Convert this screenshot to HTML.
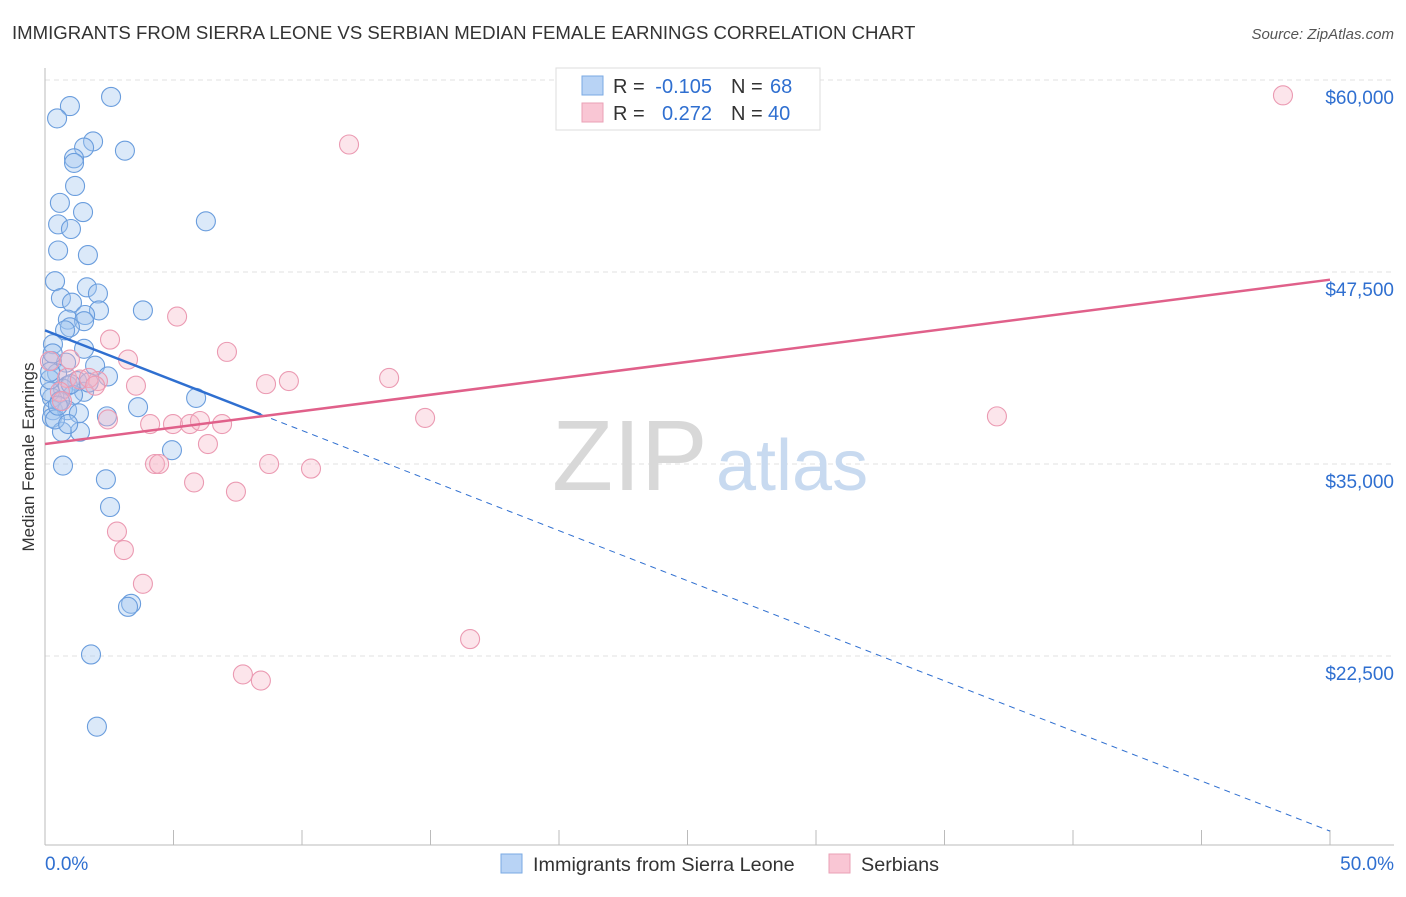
<!DOCTYPE html>
<html><head><meta charset="utf-8"><style>
body{margin:0;background:#fff;font-family:"Liberation Sans",sans-serif;}
svg text{font-family:"Liberation Sans",sans-serif;}
</style></head><body>
<svg id="chart" width="1406" height="892">
<text x="12" y="39" font-size="18.6" fill="#333">IMMIGRANTS FROM SIERRA LEONE VS SERBIAN MEDIAN FEMALE EARNINGS CORRELATION CHART</text>
<text x="1394" y="39" font-size="15" fill="#555" text-anchor="end" font-style="italic">Source: ZipAtlas.com</text>
<text x="34" y="457" font-size="17" fill="#333" text-anchor="middle" transform="rotate(-90 34 457)">Median Female Earnings</text>
<g id="grid"></g>
<text x="552" y="490" font-size="100" fill="#d8d8d8" font-family="Liberation Serif">ZIP</text>
<text x="716" y="490" font-size="72" fill="#c8daf0">atlas</text>
<g id="points"></g>
<g id="lines"></g>
<g>
<rect x="556" y="68" width="264" height="62" fill="#fff" stroke="#ddd"/>
<rect x="582" y="76" width="21" height="19" fill="#b8d3f5" stroke="#7aa9e3"/>
<text x="613" y="93" font-size="20" fill="#333">R =</text>
<text x="712" y="93" font-size="20" fill="#2f6fd0" text-anchor="end">-0.105</text>
<text x="731" y="93" font-size="20" fill="#333">N =</text>
<text x="770" y="93" font-size="20" fill="#2f6fd0">68</text>
<rect x="582" y="103" width="21" height="19" fill="#f9c6d4" stroke="#eaa0b6"/>
<text x="613" y="120" font-size="20" fill="#333">R =</text>
<text x="712" y="120" font-size="20" fill="#2f6fd0" text-anchor="end">0.272</text>
<text x="731" y="120" font-size="20" fill="#333">N =</text>
<text x="768" y="120" font-size="20" fill="#2f6fd0">40</text>
</g>
<g>
<rect x="501" y="854" width="21" height="19" fill="#b8d3f5" stroke="#7aa9e3"/>
<text x="533" y="871" font-size="19.8" fill="#333">Immigrants from Sierra Leone</text>
<rect x="829" y="854" width="21" height="19" fill="#f9c6d4" stroke="#eaa0b6"/>
<text x="861" y="871" font-size="19.8" fill="#333">Serbians</text>
</g>
<text x="45" y="870" font-size="19" fill="#2f6fd0">0.0%</text>
<text x="1394" y="870" font-size="19" fill="#2f6fd0" text-anchor="end">50.0%</text>
</svg>
<script>
const yTicks=[60000,47500,35000,22500];
const yTickLabels=["$60,000","$47,500","$35,000","$22,500"];
const blueX=[2.57,0.97,0.47,1.87,1.52,1.13,3.11,1.13,1.17,0.58,1.48,6.26,0.51,1.01,0.51,1.67,0.39,1.63,0.62,2.06,1.05,2.10,3.81,0.89,1.56,1.52,0.97,0.78,0.31,1.52,0.27,0.82,1.95,2.45,0.47,1.25,0.89,0.70,1.52,0.27,1.09,0.31,5.88,3.62,0.86,2.41,1.32,0.27,1.36,0.66,4.94,0.70,2.37,2.53,3.35,3.23,1.79,2.02,0.19,0.58,0.19,0.39,0.2,0.5,1.0,0.3,1.7,0.9];
const blueY=[58900,58300,57500,56000,55600,54900,55400,54600,53100,52000,51400,50800,50600,50300,48900,48600,46900,46500,45800,46100,45500,45000,45000,44400,44700,44300,43900,43700,42800,42500,41700,41600,41400,40700,40900,40400,40100,39900,39700,39300,39500,38500,39300,38700,38500,38100,38300,38000,37100,37100,35900,34900,34000,32200,25900,25700,22600,17900,39700,39100,40500,37900,41000,38800,40200,42200,40300,37600];
const pinkX=[48.17,11.83,5.14,2.53,7.08,0.97,3.23,0.86,1.36,2.06,1.71,1.95,3.54,8.60,9.49,13.39,2.45,4.09,4.98,5.64,6.03,6.89,6.34,14.79,37.04,0.19,0.58,4.28,4.44,8.72,10.35,5.80,7.43,2.80,3.07,3.81,16.54,7.70,8.40,0.66];
const pinkY=[59000,55800,44600,43100,42300,41800,41800,40600,40500,40400,40600,40100,40100,40200,40400,40600,37900,37600,37600,37600,37800,37600,36300,38000,38100,41700,39700,35000,35000,35000,34700,33800,33200,30600,29400,27200,23600,21300,20900,39100];
const blueTrend=[43700,11100];
const pinkTrend=[36300,47000];
const blueSolidEnd=8.4;
const NS="http://www.w3.org/2000/svg";
function xs(v){return 45+v*(1285/50);}
function ys(v){return 80+(60000-v)*192/12500;}
function mk(tag,attrs,parent){const e=document.createElementNS(NS,tag);for(const k in attrs)e.setAttribute(k,attrs[k]);parent.appendChild(e);return e;}
const grid=document.getElementById('grid');
yTicks.forEach((t,i)=>{
  const l=mk('line',{x1:45,x2:1394,y1:ys(t),y2:ys(t),stroke:'#e2e2e2','stroke-dasharray':'5,4'},grid);
  
  
  const tx=mk('text',{x:1394,y:ys(t)+24,'font-size':19,fill:'#2f6fd0','text-anchor':'end'},grid);
  tx.textContent=yTickLabels[i];
  
  
});
const ax=mk('line',{x1:45,x2:45,y1:68,y2:845,stroke:'#bbb'},grid);


const bx=mk('line',{x1:45,x2:1394,y1:845,y2:845,stroke:'#bbb'},grid);


for(let i=0;i<=10;i++){const t=mk('line',{x1:xs(i*5),x2:xs(i*5),y1:830,y2:845,stroke:'#bbb'},grid);

}
const pts=document.getElementById('points');
blueX.forEach((x,i)=>{const c=mk('circle',{cx:xs(x),cy:ys(blueY[i]),r:9.5,fill:'rgba(160,196,240,0.38)',stroke:'#6a9ddd','stroke-width':1.1},pts);

});
pinkX.forEach((x,i)=>{const c=mk('circle',{cx:xs(x),cy:ys(pinkY[i]),r:9.5,fill:'rgba(245,180,198,0.35)',stroke:'#eb9ab2','stroke-width':1.1},pts);

});
const ln=document.getElementById('lines');
function bAt(x){return blueTrend[0]+(blueTrend[1]-blueTrend[0])*x/50;}
const b1=mk('line',{x1:xs(0),y1:ys(bAt(0)),x2:xs(blueSolidEnd),y2:ys(bAt(blueSolidEnd)),stroke:'#2f6fd0','stroke-width':2.5},ln);


const b2=mk('line',{x1:xs(blueSolidEnd),y1:ys(bAt(blueSolidEnd)),x2:xs(50),y2:ys(bAt(50)),stroke:'#2f6fd0','stroke-width':1,'stroke-dasharray':'6,5'},ln);


const p1=mk('line',{x1:xs(0),y1:ys(pinkTrend[0]),x2:xs(50),y2:ys(pinkTrend[1]),stroke:'#e0608a','stroke-width':2.5},ln);


</script>
</body></html>
